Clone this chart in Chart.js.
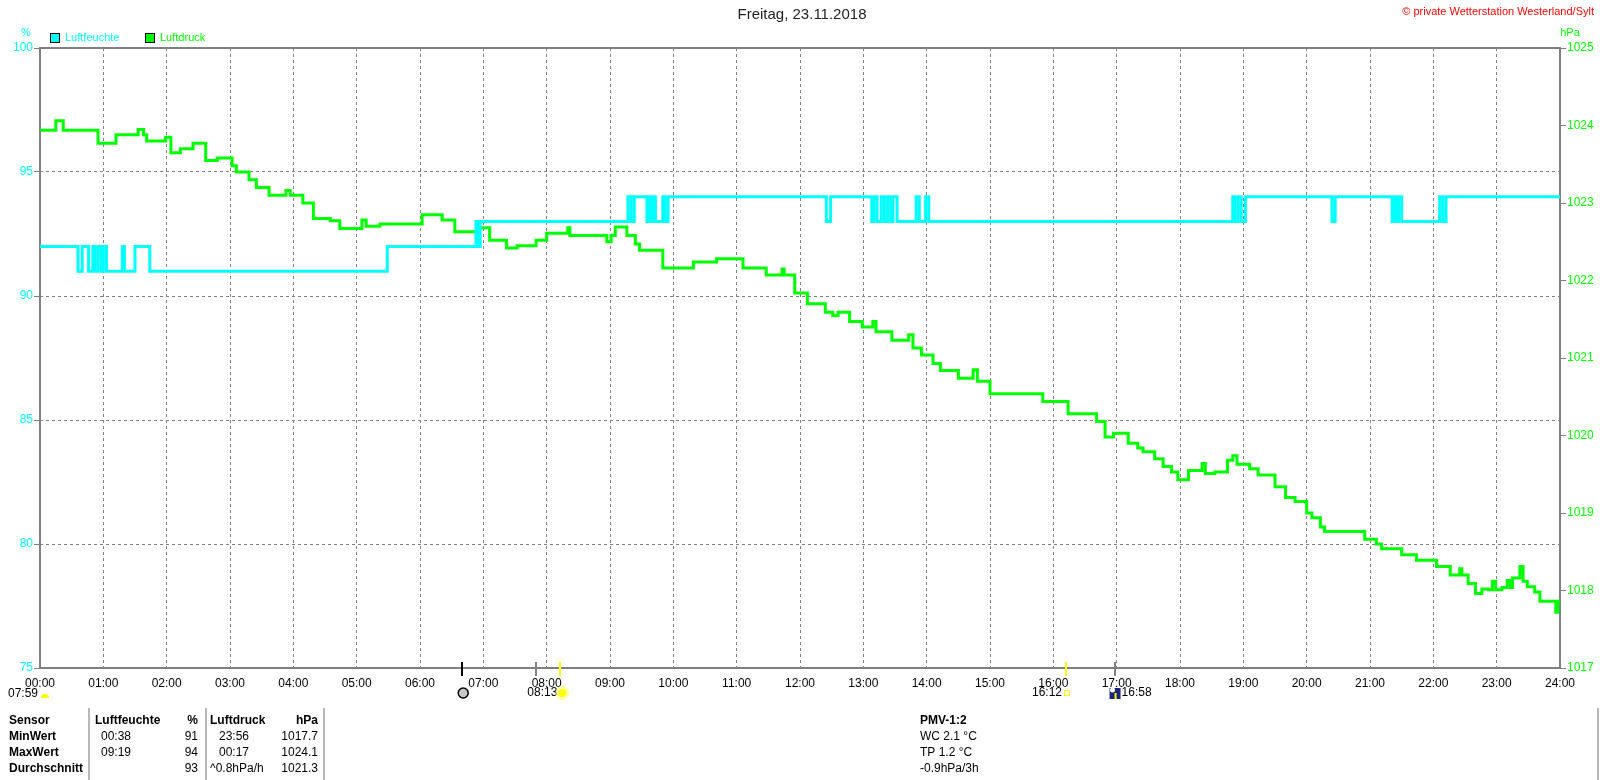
<!DOCTYPE html>
<html>
<head>
<meta charset="utf-8">
<title>Freitag, 23.11.2018</title>
<script src="https://cdn.jsdelivr.net/npm/chart.js@4.4.0/dist/chart.umd.min.js"></script>
<style>
  html, body { margin: 0; padding: 0; background: #fff; }
  #wrap { position: relative; width: 1600px; height: 780px; }
</style>
</head>
<body>
<div id="wrap"><canvas id="myChart"></canvas></div>
<script>
// minutes since midnight
const hourTicks = [0, 60, 120, 180, 240, 300, 360, 420, 480, 540, 600, 660, 720, 780, 840, 900, 960, 1020, 1080, 1140, 1200, 1260, 1320, 1380, 1440];
const humTicks = [75, 80, 85, 90, 95, 100];
const pressTicks = [1017, 1018, 1019, 1020, 1021, 1022, 1023, 1024, 1025];

// Luftfeuchte: point = value from this minute on
const humTimes = [0, 36, 40, 46, 50, 52, 55, 58, 60, 63, 78, 80, 90, 104, 329, 413, 415, 417,
  557, 560, 563, 575, 577, 579, 581, 583, 590, 592, 595, 745, 749, 788, 790, 793, 797, 800, 803, 806, 808, 812,
  830, 833, 839, 842, 1130, 1132, 1135, 1138, 1142, 1224, 1227, 1281, 1283, 1285, 1287, 1290, 1326, 1329, 1332, 1440];
const humValues = [92, 91, 92, 91, 92, 91, 92, 91, 92, 91, 92, 91, 92, 91, 92, 93, 92, 93,
  94, 93, 94, 93, 94, 93, 94, 93, 94, 93, 94, 93, 94, 93, 94, 93, 94, 93, 94, 93, 94, 93,
  94, 93, 94, 93, 94, 93, 94, 93, 94, 93, 94, 93, 94, 93, 94, 93, 94, 93, 94, 94];

// Luftdruck
const pressTimes = [0, 15, 22, 55, 72, 93, 98, 101, 119, 124, 133, 145, 157, 168, 182, 186, 198, 205, 217, 233, 237, 249,
  259, 275, 284, 305, 309, 322, 362, 381, 393, 414, 426, 442, 452, 470, 480, 500, 502, 537, 541, 545, 556, 564, 568,
  590, 619, 641, 666, 688, 703, 705, 715, 727, 744, 751, 756, 767, 779, 789, 792, 807, 823, 827, 835, 846, 853, 870,
  884, 888, 900, 950, 974, 1001, 1009, 1017, 1031, 1040, 1045, 1056, 1064, 1072, 1078, 1088, 1101, 1104, 1113, 1125,
  1130, 1134, 1146, 1154, 1170, 1180, 1189, 1200, 1205, 1213, 1217, 1255, 1266, 1271, 1290, 1304, 1323, 1336, 1345,
  1347, 1353, 1360, 1366, 1372, 1376, 1379, 1385, 1390, 1393, 1395, 1402, 1405, 1409, 1416, 1421, 1436, 1438, 1440];
const pressValues = [1023.94, 1024.06, 1023.94, 1023.77, 1023.88, 1023.95, 1023.88, 1023.80, 1023.85, 1023.65, 1023.70,
  1023.77, 1023.55, 1023.58, 1023.48, 1023.40, 1023.30, 1023.20, 1023.10, 1023.16, 1023.10, 1023.00,
  1022.80, 1022.77, 1022.67, 1022.78, 1022.70, 1022.73, 1022.85, 1022.78, 1022.63, 1022.68, 1022.52, 1022.42, 1022.45,
  1022.52, 1022.61, 1022.68, 1022.58, 1022.50, 1022.58, 1022.69, 1022.58, 1022.47, 1022.39,
  1022.16, 1022.24, 1022.28, 1022.16, 1022.07, 1022.15, 1022.07, 1021.84, 1021.70, 1021.59, 1021.55, 1021.59, 1021.47,
  1021.40, 1021.47, 1021.34, 1021.23, 1021.30, 1021.13, 1021.04, 1020.93, 1020.84, 1020.74,
  1020.85, 1020.70, 1020.54, 1020.44, 1020.28, 1020.18, 1019.98, 1020.03, 1019.90, 1019.84, 1019.79, 1019.70, 1019.60,
  1019.53, 1019.43, 1019.55, 1019.64, 1019.51, 1019.53, 1019.68,
  1019.74, 1019.63, 1019.57, 1019.49, 1019.34, 1019.20, 1019.15, 1019.00, 1018.94, 1018.82, 1018.76, 1018.66, 1018.60,
  1018.54, 1018.46, 1018.39, 1018.31, 1018.20, 1018.28,
  1018.20, 1018.09, 1017.96, 1018.02, 1018.01, 1018.12, 1018.01, 1018.04, 1018.13, 1018.04, 1018.16, 1018.31, 1018.12,
  1018.05, 1017.98, 1017.86, 1017.72, 1017.86, 1017.86];

// sun / moon markers below the time axis
const markerTimes = [400, 470, 493, 972, 1018];
const markerColors = ["#000000", "#808080", "#ffff00", "#ffff00", "#808080"];

const tableRows = [
  ["Sensor", "Luftfeuchte", "%", "Luftdruck", "hPa"],
  ["MinWert", "00:38", "91", "23:56", "1017.7"],
  ["MaxWert", "09:19", "94", "00:17", "1024.1"],
  ["Durchschnitt", "", "93", "^0.8hPa/h", "1021.3"]
];
const pmvLines = ["PMV-1:2", "WC 2.1 °C", "TP 1.2 °C", "-0.9hPa/3h"];

const humColor = "#00ffff";
const pressColor = "#00ff00";
const gridGray = "#808080";
const FONT = "'Liberation Sans', Arial, sans-serif";

function hhmm(v) {
  return String(Math.floor(v / 60)).padStart(2, "0") + ":00";
}

//decorations: frame, title, legend, markers, table
const extras = {
  id: "extras",
  beforeDatasetsDraw(chart) {
    const { ctx, chartArea: a } = chart;
    ctx.save();
    ctx.strokeStyle = gridGray;
    ctx.lineWidth = 2;
    ctx.strokeRect(a.left, a.top, a.right - a.left, a.bottom - a.top);
    ctx.restore();
  },
  afterDraw(chart) {
    const { ctx, chartArea: a } = chart;
    const xs = chart.scales.x;
    ctx.save();
    ctx.textBaseline = "middle";

    // title + copyright
    ctx.font = "15px " + FONT;
    ctx.fillStyle = "#222";
    ctx.textAlign = "center";
    ctx.fillText("Freitag, 23.11.2018", 802, 15);
    ctx.font = "11px " + FONT;
    ctx.fillStyle = "#ff0000";
    ctx.textAlign = "right";
    ctx.fillText("© private Wetterstation Westerland/Sylt", 1594, 12);

    // units
    ctx.textAlign = "center";
    ctx.fillStyle = humColor;
    ctx.fillText("%", 26, 33);
    ctx.fillStyle = pressColor;
    ctx.fillText("hPa", 1570, 33);

    // legend
    ctx.textAlign = "left";
    [[50, humColor, "Luftfeuchte"], [145, pressColor, "Luftdruck"]].forEach(([lx, col, txt]) => {
      ctx.fillStyle = col;
      ctx.fillRect(lx, 33, 10, 10);
      ctx.strokeStyle = "#000";
      ctx.lineWidth = 1;
      ctx.strokeRect(lx + 0.5, 33.5, 9, 9);
      ctx.fillStyle = col;
      ctx.fillText(txt, lx + 15, 38);
    });

    // marker ticks across the bottom axis
    markerTimes.forEach((t, i) => {
      const px = Math.round(xs.getPixelForValue(t));
      ctx.fillStyle = markerColors[i];
      ctx.fillRect(px - 1, a.bottom - 6, 2, 14);
    });

    ctx.font = "12px " + FONT;
    ctx.fillStyle = "#000";
    ctx.textAlign = "right";
    ctx.fillText("07:59", 38, 694);
    ctx.fillStyle = "#ffff00";
    ctx.beginPath();
    ctx.arc(45, 698, 4, Math.PI, 0);
    ctx.fill();

    // moon
    const mx = xs.getPixelForValue(markerTimes[0]);
    ctx.beginPath();
    ctx.arc(mx + 1, 693, 5, 0, Math.PI * 2);
    ctx.fillStyle = "#c8c8c8";
    ctx.fill();
    ctx.strokeStyle = "#000";
    ctx.lineWidth = 1.5;
    ctx.stroke();

    // sunrise
    const sr = xs.getPixelForValue(markerTimes[2]);
    ctx.fillStyle = "#000";
    ctx.fillText("08:13", sr - 3, 693);
    ctx.fillStyle = "rgba(255,255,120,0.6)";
    ctx.beginPath();
    ctx.arc(sr + 2, 693, 7, 0, Math.PI * 2);
    ctx.fill();
    ctx.fillStyle = "#ffff00";
    ctx.beginPath();
    ctx.arc(sr + 2, 693, 4, 0, Math.PI * 2);
    ctx.fill();

    // sunset
    const ss = xs.getPixelForValue(markerTimes[3]);
    ctx.fillStyle = "#000";
    ctx.fillText("16:12", ss - 4, 693);
    ctx.strokeStyle = "#ffff00";
    ctx.lineWidth = 1;
    ctx.strokeRect(ss - 1.5, 690.5, 5, 5);

    // dusk icon
    const dk = xs.getPixelForValue(markerTimes[4]);
    ctx.fillStyle = "#1a237e";
    ctx.fillRect(dk - 5, 688, 11, 11);
    ctx.fillStyle = "#fff";
    ctx.beginPath();
    ctx.arc(dk - 2, 690, 2.5, 0, Math.PI * 2);
    ctx.fill();
    ctx.fillStyle = "#ffff00";
    ctx.fillRect(dk, 693, 2, 6);
    ctx.fillStyle = "#000";
    ctx.textAlign = "left";
    ctx.fillText("16:58", dk + 7, 693);

    // statistics table
    const colX = [9, 95, 198, 210, 318];
    const colAlign = ["left", "left", "right", "left", "right"];
    const rowY = [721, 737, 753, 769];
    tableRows.forEach((row, r) => {
      row.forEach((txt, c) => {
        const bold = r === 0 || c === 0;
        ctx.font = (bold ? "bold " : "") + "12px " + FONT;
        ctx.textAlign = colAlign[c];
        let x = colX[c];
        if (r > 0 && c === 1) x = 101;
        if (r > 0 && r < 3 && c === 3) x = 219;
        ctx.fillStyle = "#000";
        ctx.fillText(txt, x, rowY[r]);
      });
    });
    ctx.strokeStyle = "#a0a0a0";
    ctx.lineWidth = 1.5;
    [89, 206, 324, 1598].forEach((lx) => {
      ctx.beginPath();
      ctx.moveTo(lx, 708);
      ctx.lineTo(lx, 780);
      ctx.stroke();
    });

    ctx.textAlign = "left";
    pmvLines.forEach((txt, i) => {
      ctx.font = (i === 0 ? "bold " : "") + "12px " + FONT;
      ctx.fillStyle = "#000";
      ctx.fillText(txt, 920, rowY[i]);
    });

    ctx.restore();
  }
};

const ctx = document.getElementById("myChart");
new Chart(ctx, {
  type: "line",
  data: {
    datasets: [
      {
        label: "Luftfeuchte",
        data: humTimes.map((t, i) => ({ x: t, y: humValues[i] })),
        borderColor: humColor,
        backgroundColor: humColor,
        borderWidth: 3,
        pointRadius: 0,
        stepped: "before",
        yAxisID: "y",
      },
      {
        label: "Luftdruck",
        data: pressTimes.map((t, i) => ({ x: t, y: pressValues[i] })),
        borderColor: pressColor,
        backgroundColor: pressColor,
        borderWidth: 3,
        pointRadius: 0,
        stepped: "before",
        yAxisID: "y1",
      }
    ]
  },
  options: {
    responsive: true,
    maintainAspectRatio: false,
    animation: false,
    layout: { padding: { top: 48, left: 0, right: 0, bottom: 0 } },
    plugins: {
      legend: { display: false },
      title: { display: false },
      tooltip: { enabled: false },
    },
    scales: {
      x: {
        type: "linear",
        min: 0,
        max: 1440,
        afterBuildTicks: (s) => { s.ticks = hourTicks.map((v) => ({ value: v })); },
        afterFit: (s) => { s.height = 112; },
        ticks: {
          callback: (v) => hhmm(v),
          color: "#000",
          font: { size: 12, family: FONT },
          padding: 8,
          maxRotation: 0,
          autoSkip: false,
        },
        grid: { color: gridGray, lineWidth: 1, drawTicks: false },
        border: { display: false, dash: [3, 3] },
      },
      y: {
        position: "left",
        min: 75,
        max: 100,
        afterBuildTicks: (s) => { s.ticks = humTicks.map((v) => ({ value: v })); },
        afterFit: (s) => { s.width = 40; },
        ticks: {
          callback: (v) => String(v),
          color: humColor,
          font: { size: 12, family: FONT },
          padding: 1,
        },
        grid: { color: gridGray, lineWidth: 1, tickLength: 6, tickColor: gridGray, tickBorderDash: [] },
        border: { display: false, dash: [3, 3] },
      },
      y1: {
        position: "right",
        min: 1017,
        max: 1025,
        afterBuildTicks: (s) => { s.ticks = pressTicks.map((v) => ({ value: v })); },
        afterFit: (s) => { s.width = 40; },
        ticks: {
          callback: (v) => String(v),
          color: pressColor,
          font: { size: 12, family: FONT },
          padding: 1,
        },
        grid: { drawOnChartArea: false, tickLength: 6, tickColor: gridGray, tickBorderDash: [] },
        border: { display: false },
      }
    }
  },
  plugins: [extras]
});
</script>
</body>
</html>
